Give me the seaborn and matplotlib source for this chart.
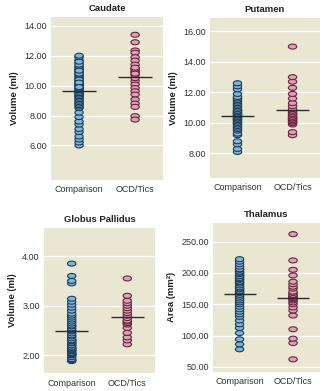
import numpy as np
import pandas as pd
import matplotlib
matplotlib.use("Agg")
import matplotlib.pyplot as plt
from matplotlib.path import Path
import seaborn as sns

# Group labels
groups = ["Comparison", "OCD/Tics"]

# Caudate volume (ml)
caudate_comparison = [6.0, 6.2, 6.4, 6.6, 6.9, 7.1, 7.4, 7.6, 7.9, 8.2, 8.5, 8.6, 8.7, 8.8,
                      8.9, 9.0, 9.1, 9.2, 9.3, 9.3, 9.4, 9.5, 9.5, 9.6, 9.7, 9.8, 9.8, 9.9,
                      10.0, 10.1, 10.1, 10.2, 10.3, 10.4, 10.5, 10.6, 10.7, 10.8, 10.9, 11.0,
                      11.1, 11.2, 11.3, 11.5, 11.7, 11.9, 12.0, 10.0, 10.4, 10.8, 11.0, 11.4,
                      11.6, 10.2, 9.9]
caudate_ocd = [13.4, 12.9, 12.35, 12.2, 11.9, 11.67, 11.4, 11.13, 10.95, 10.73, 10.29, 10.07,
               9.84, 9.62, 9.4, 9.07, 8.8, 8.58, 7.96, 7.73, 10.9, 11.1, 10.5, 10.8, 11.2]

# Putamen volume (ml)
putamen_comparison = [8.1, 8.3, 8.6, 8.8, 9.2, 9.3, 9.5, 9.6, 9.7, 9.8, 9.9, 10.0, 10.0, 10.1,
                      10.2, 10.2, 10.3, 10.3, 10.4, 10.4, 10.5, 10.5, 10.6, 10.6, 10.7, 10.7,
                      10.8, 10.8, 10.9, 11.0, 11.1, 11.2, 11.3, 11.4, 11.5, 11.6, 11.7, 11.9,
                      12.2, 12.4, 12.6]
putamen_ocd = [9.2, 9.4, 9.9, 10.0, 10.0, 10.1, 10.1, 10.2, 10.2, 10.3, 10.3, 10.4, 10.4,
               10.5, 10.6, 10.6, 10.7, 10.8, 10.9, 11.1, 11.3, 11.6, 11.9, 12.3, 12.7, 13.0, 15.0]

# Globus pallidus volume (ml)
globus_comparison = [1.88, 1.9, 1.92, 1.96, 2.0, 2.0, 2.02, 2.04, 2.05, 2.08, 2.1, 2.12, 2.12,
                     2.15, 2.16, 2.2, 2.2, 2.24, 2.25, 2.28, 2.3, 2.3, 2.34, 2.38, 2.4, 2.44,
                     2.48, 2.5, 2.54, 2.58, 2.6, 2.64, 2.68, 2.72, 2.76, 2.8, 2.84, 2.9, 2.96,
                     3.02, 3.08, 3.14, 3.45, 3.5, 3.6, 3.85]
globus_ocd = [2.22, 2.3, 2.36, 2.45, 2.55, 2.62, 2.65, 2.68, 2.7, 2.75, 2.8, 2.85, 2.9, 2.95,
              3.0, 3.05, 3.1, 3.2, 3.55]

# Thalamus area (mm2)
thalamus_comparison = [78, 86, 94, 104, 112, 118, 124, 130, 134, 138, 142, 146, 150, 153, 156,
                       159, 162, 165, 168, 170, 171, 174, 175, 177, 180, 183, 185, 186, 189,
                       190, 192, 195, 195, 198, 200, 202, 205, 206, 210, 214, 218, 222]
thalamus_ocd = [62, 88, 95, 110, 132, 140, 145, 150, 153, 156, 158, 160, 160, 162, 163, 165,
                165, 168, 170, 175, 178, 182, 186, 196, 205, 220, 262]

panels = [
    ("Caudate", "Volume (ml)", caudate_comparison, caudate_ocd,
     [6, 8, 10, 12, 14], (3.7, 14.6), [0.158, 0.540, 0.347, 0.417]),
    ("Putamen", "Volume (ml)", putamen_comparison, putamen_ocd,
     [8, 10, 12, 14, 16], (6.4, 16.9), [0.650, 0.545, 0.341, 0.410]),
    ("Globus Pallidus", "Volume (ml)", globus_comparison, globus_ocd,
     [2, 3, 4], (1.64, 4.57), [0.136, 0.046, 0.344, 0.371]),
    ("Thalamus", "Area (mm²)", thalamus_comparison, thalamus_ocd,
     [50, 100, 150, 200, 250], (42, 280), [0.659, 0.049, 0.331, 0.381]),
]

face_colors = {"Comparison": "#7fb6d4", "OCD/Tics": "#dba3b4"}
edge_colors = ["#1c3a5e", "#6e2140"]
panel_bg = "#e9e6d2"

# flattened oval marker
theta = np.linspace(0, 2 * np.pi, 41)
oval = Path(np.column_stack([np.cos(theta), 0.6 * np.sin(theta)]), closed=True)

sns.set_theme(style="white")
plt.rcParams["font.family"] = ["Liberation Sans", "DejaVu Sans"]

fig = plt.figure(figsize=(3.23, 3.91), dpi=100)
fig.patch.set_facecolor("white")

for title, ylabel, comp, ocd, yticks, ylim, rect in panels:
    ax = fig.add_axes(rect)
    df = pd.DataFrame({
        "group": [groups[0]] * len(comp) + [groups[1]] * len(ocd),
        "value": list(comp) + list(ocd),
    })
    ax.set_facecolor(panel_bg)
    for t in yticks:
        ax.axhline(t, color="white", lw=0.9, zorder=0.5)

    sns.stripplot(data=df, x="group", y="value", hue="group", order=groups,
                  palette=face_colors, jitter=False, size=6.0, linewidth=0.8,
                  marker=oval, legend=False, ax=ax, zorder=2)
    for coll, ec in zip(ax.collections, edge_colors):
        coll.set_edgecolor(ec)

    # group mean as a short horizontal bar
    sns.boxplot(data=df, x="group", y="value", order=groups, width=0.6,
                showmeans=True, meanline=True, showbox=False, showcaps=False,
                showfliers=False,
                whiskerprops={"visible": False},
                medianprops={"visible": False},
                meanprops={"color": "#2b2b2b", "linestyle": "-", "linewidth": 1.0},
                ax=ax, zorder=3)

    ax.set_xlim(-0.5, 1.5)
    ax.set_ylim(*ylim)
    ax.set_yticks(yticks)
    ax.set_yticklabels([f"{t:.2f}" for t in yticks])
    ax.tick_params(axis="both", length=0, labelsize=6.5, colors="#333333")
    ax.tick_params(axis="x", pad=4)
    ax.tick_params(axis="y", pad=3)
    for s in ax.spines.values():
        s.set_visible(False)
    ax.set_xlabel("")
    ax.set_ylabel(ylabel, fontsize=6.8, fontweight="bold", color="#222222", labelpad=4)
    ax.set_title(title, fontsize=6.8, fontweight="bold", color="#222222", pad=4)

fig.savefig("out.png", dpi=100, facecolor="white")
